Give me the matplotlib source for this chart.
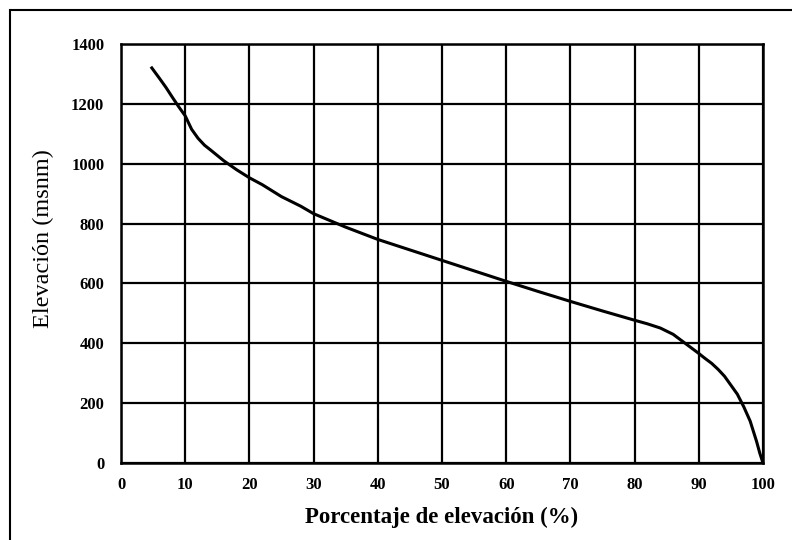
import matplotlib
matplotlib.use('Agg')
import matplotlib.pyplot as plt
import matplotlib.patches as patches

# curva hipsométrica
porcentaje = [4.8, 6, 7, 8, 9, 10, 11, 12, 13, 14, 16, 18, 20, 22, 25, 28, 30,
              35, 40, 45, 50, 55, 60, 65, 70, 75, 80, 82, 84, 86, 88, 89, 90,
              91, 92, 93, 94, 95, 96, 97, 98, 99, 99.5, 100]
elevacion = [1320, 1285, 1255, 1222, 1190, 1160, 1115, 1085, 1062, 1045, 1010,
             980, 953, 930, 890, 858, 833, 788, 747, 712, 677, 642, 607, 573,
             540, 508, 477, 465, 451, 430, 398, 382, 366, 349, 333, 313, 290,
             260, 230, 188, 140, 72, 33, 0]
x_ticks = [0, 10, 20, 30, 40, 50, 60, 70, 80, 90, 100]
y_ticks = [0, 200, 400, 600, 800, 1000, 1200, 1400]

plt.rcParams['font.family'] = ['Liberation Serif', 'DejaVu Serif']

fig = plt.figure(figsize=(7.92, 5.40), dpi=100)
fig.patch.set_facecolor('white')

# marco exterior
fig.patches.append(patches.Rectangle((10 / 792, -0.1), 1.2, 1 - 10 / 540 + 0.1,
                                     transform=fig.transFigure, fill=False,
                                     edgecolor='black', linewidth=1.5))

ax = fig.add_axes([121 / 792, 1 - 463 / 540, (763 - 121) / 792, (463 - 44) / 540])
ax.plot(porcentaje, elevacion, color='black', linewidth=2.2)

ax.set_xlim(0, 100)
ax.set_ylim(0, 1400)
ax.set_xticks(x_ticks)
ax.set_yticks(y_ticks)
ax.tick_params(length=0, labelsize=12)
ax.tick_params(axis='x', pad=10)
ax.tick_params(axis='y', pad=12)
for lbl in ax.get_xticklabels() + ax.get_yticklabels():
    lbl.set_fontweight('bold')
ax.grid(True, color='black', linewidth=1.6)
for s in ax.spines.values():
    s.set_linewidth(1.8)

ax.set_xlabel('Porcentaje de elevación (%)', fontsize=16.5, fontweight='bold',
              labelpad=10)
ax.set_ylabel('Elevación (msnm)', fontsize=17.5)
ax.yaxis.set_label_coords(-0.104, 0.535)

fig.savefig('out.png', dpi=100, facecolor='white')
